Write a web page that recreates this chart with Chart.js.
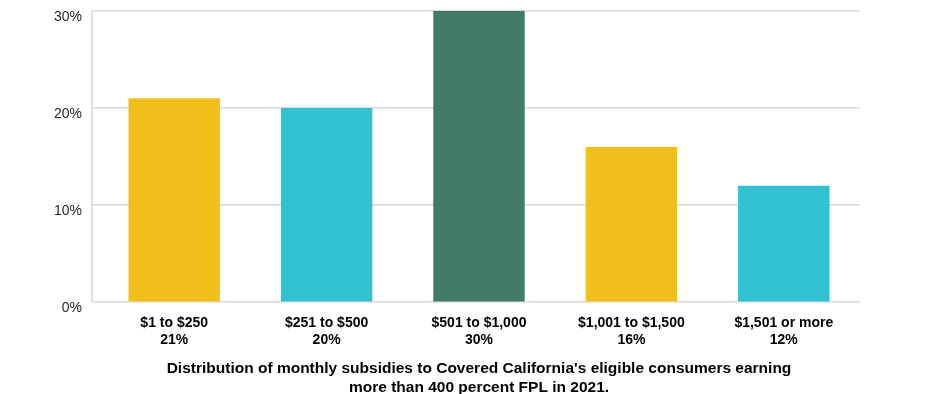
<!DOCTYPE html>
<html>
<head>
<meta charset="utf-8">
<script src="https://cdn.jsdelivr.net/npm/chart.js@4"></script>
<style>
    html, body { margin: 0; padding: 0; background: #fff; }
    #wrap { width: 936px; height: 394px; }
</style>
</head>
<body>
<div id="wrap"><canvas id="grafico"></canvas></div>
<script>
const categorias = ['$1 to $250', '$251 to $500', '$501 to $1,000', '$1,001 to $1,500', '$1,501 or more'];
const porcentajes = [21, 20, 30, 16, 12];
const colores = ['#F1BF19', '#32C1D1', '#417C66', '#F1BF19', '#32C1D1'];
const ticksY = [0, 10, 20, 30];
const tituloLineas = [
    "Distribution of monthly subsidies to Covered California's eligible consumers earning",
    'more than 400 percent FPL in 2021.'
];

// etiquetas de dos lineas: rango + porcentaje
const etiquetas = categorias.map((c, i) => [c, porcentajes[i] + '%']);

// linea vertical izquierda, un poco afuera del area
const lineaIzquierda = {
    id: 'lineaIzquierda',
    afterLayout(chart) {
        // centrar el titulo sobre el area del grafico
        if (chart.titleBlock) {
            chart.titleBlock.left = chart.chartArea.left;
            chart.titleBlock.right = chart.chartArea.right;
        }
    },
    beforeDatasetsDraw(chart) {
        const { ctx, chartArea } = chart;
        ctx.save();
        ctx.strokeStyle = '#d9d9d9';
        ctx.lineWidth = 1.5;
        ctx.beginPath();
        ctx.moveTo(chartArea.left - 6, chartArea.top);
        ctx.lineTo(chartArea.left - 6, chartArea.bottom);
        ctx.stroke();
        ctx.restore();
    }
};

new Chart(document.getElementById('grafico').getContext('2d'), {
    type: 'bar',
    data: {
        labels: etiquetas,
        datasets: [{
            data: porcentajes,
            backgroundColor: colores,
            borderWidth: 0,
            categoryPercentage: 0.6,
            barPercentage: 1
        }]
    },
    options: {
        responsive: true,
        maintainAspectRatio: false,
        animation: false,
        layout: { padding: { top: 11, right: 76, bottom: 0, left: 0 } },
        plugins: {
            legend: { display: false },
            tooltip: { enabled: false },
            title: {
                display: true,
                position: 'bottom',
                text: tituloLineas,
                color: '#000',
                font: { family: 'Arial, "Liberation Sans", sans-serif', size: 15.5, weight: 'bold', lineHeight: 1.22 },
                padding: { top: 12, bottom: -3 }
            }
        },
        scales: {
            x: {
                grid: { display: false, drawTicks: false },
                border: { display: false },
                afterFit(scale) {
                    scale.height = 45;
                },
                ticks: {
                    color: '#000',
                    padding: 13,
                    maxRotation: 0,
                    autoSkip: false,
                    font: { family: 'Arial, "Liberation Sans", sans-serif', size: 14, weight: 'bold' }
                }
            },
            y: {
                min: ticksY[0],
                max: ticksY[ticksY.length - 1],
                afterBuildTicks(scale) {
                    scale.ticks = ticksY.map(v => ({ value: v }));
                },
                afterFit(scale) {
                    scale.width = 98;
                    scale.paddingTop = 0;
                    scale.paddingBottom = 0;
                },
                grid: {
                    color: '#d9d9d9',
                    lineWidth: 1.5,
                    drawTicks: true,
                    tickLength: 6
                },
                border: { display: false },
                ticks: {
                    color: '#262626',
                    padding: 10,
                    labelOffset: 6,
                    font: { family: 'Arial, "Liberation Sans", sans-serif', size: 14 },
                    callback: v => v + '%'
                }
            }
        }
    },
    plugins: [lineaIzquierda]
});
</script>
</body>
</html>
